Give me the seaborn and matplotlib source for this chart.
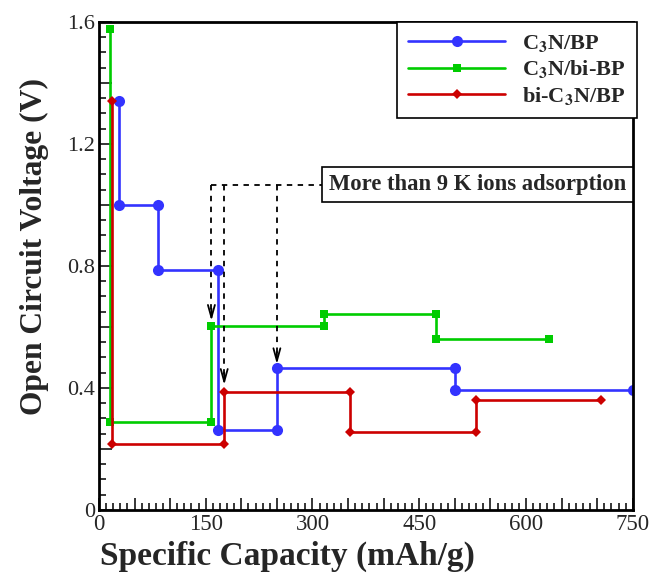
import matplotlib
matplotlib.use("Agg")
import matplotlib.pyplot as plt
import seaborn as sns
import pandas as pd
from matplotlib.ticker import MultipleLocator, FuncFormatter

# Data
bp_x = [28, 28, 83, 83, 167, 167, 250, 250, 500, 500, 750]
bp_y = [1.34, 1.0, 1.0, 0.785, 0.785, 0.262, 0.262, 0.464, 0.464, 0.393, 0.393]
bibp_x = [16, 16, 158, 158, 316, 316, 474, 474, 632]
bibp_y = [1.575, 0.29, 0.29, 0.604, 0.604, 0.643, 0.643, 0.561, 0.561]
bic_x = [19, 19, 176, 176, 353, 353, 530, 530, 706]
bic_y = [1.34, 0.215, 0.215, 0.388, 0.388, 0.255, 0.255, 0.36, 0.36]
labels = [r'C$_{\mathbf{3}}$N/BP', r'C$_{\mathbf{3}}$N/bi-BP', r'bi-C$_{\mathbf{3}}$N/BP']
colors = ['#3333ff', '#00cc00', '#cc0000']
markers = ['o', 's', 'D']
msizes = [8, 6, 5.5]

# annotation
arrow_x = [158, 176, 250]
arrow_tip = [0.62, 0.41, 0.478]
ann_y = 1.066
ann_text = 'More than 9 K ions adsorption'

sns.set_style('white')
plt.rcParams['font.family'] = ['Liberation Serif', 'DejaVu Serif']
plt.rcParams['mathtext.fontset'] = 'stix'

fig = plt.figure(figsize=(6.51, 5.74), dpi=100)
ax = fig.add_axes([0.152, 0.1115, 0.82, 0.8505])

series = [(bp_x, bp_y), (bibp_x, bibp_y), (bic_x, bic_y)]
for (xs, ys), lab, c, m, ms in zip(series, labels, colors, markers, msizes):
    df = pd.DataFrame({'x': xs, 'y': ys})
    sns.lineplot(data=df, x='x', y='y', sort=False, estimator=None, ax=ax,
                 color=c, marker=m, markersize=ms, markeredgewidth=0,
                 linewidth=1.9, label=lab)

# annotation dashed lines
ax.plot([arrow_x[0], 318], [ann_y, ann_y], color='black', ls=(0, (3, 3)), lw=1.3)
for xa, yt in zip(arrow_x, arrow_tip):
    ax.plot([xa, xa], [ann_y, yt + 0.02], color='black', ls=(0, (3, 3)), lw=1.3)
    ax.annotate('', xy=(xa, yt), xytext=(xa, yt + 0.04),
                arrowprops=dict(arrowstyle='->,head_length=0.9,head_width=0.25',
                                color='black', lw=1.3, shrinkA=0, shrinkB=0))
ax.text(323, ann_y, ann_text, fontsize=16.3, fontweight='bold', va='center', ha='left',
        bbox=dict(boxstyle='square,pad=0.32', fc='white', ec='black', lw=1.2))

ax.set_xlim(0, 750)
ax.set_ylim(0, 1.6)
ax.xaxis.set_major_locator(MultipleLocator(50))
ax.xaxis.set_minor_locator(MultipleLocator(10))
ax.yaxis.set_major_locator(MultipleLocator(0.2))
ax.yaxis.set_minor_locator(MultipleLocator(0.05))
ax.xaxis.set_major_formatter(FuncFormatter(lambda v, p: f'{int(round(v))}' if round(v) % 150 == 0 else ''))
ax.yaxis.set_major_formatter(FuncFormatter(lambda v, p: ('0' if abs(v) < 1e-9 else f'{v:.1f}') if abs(round(v / 0.4) * 0.4 - v) < 1e-6 else ''))
ax.tick_params(which='both', direction='in', top=False, right=False, width=1.3)
ax.tick_params(axis='x', labelsize=16.5, pad=3)
ax.tick_params(axis='y', labelsize=16, pad=3)
ax.tick_params(which='major', length=9, bottom=True, left=True)
ax.tick_params(which='minor', length=5, bottom=True, left=True)
for s in ax.spines.values():
    s.set_linewidth(2)
    s.set_color('black')

ax.set_xlabel('Specific Capacity (mAh/g)', fontsize=24, fontweight='bold')
ax.set_ylabel('Open Circuit Voltage (V)', fontsize=22.7, fontweight='bold')
ax.xaxis.set_label_coords(0.354, -0.062)
ax.yaxis.set_label_coords(-0.094, 0.539)

leg = ax.legend(loc='upper right', bbox_to_anchor=(1.007, 1.0), borderaxespad=0,
                fancybox=False, edgecolor='black',
                prop={'weight': 'bold', 'size': 16}, handlelength=4.4, handletextpad=0.75,
                borderpad=0.5, labelspacing=0.2, framealpha=1)
leg.get_frame().set_linewidth(1.2)

fig.savefig('out.png', dpi=100)
